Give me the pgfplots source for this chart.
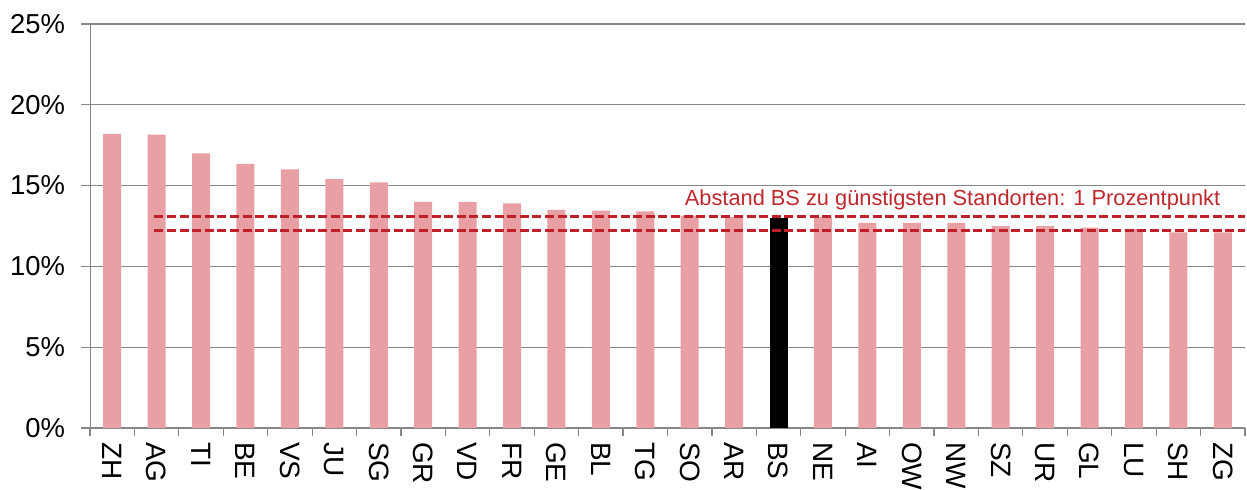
\documentclass[border=0pt]{standalone}
\usepackage{pgfplots}
\pgfplotsset{compat=1.18}
\usepackage{fontspec}
\setmainfont{Liberation Sans}
\definecolor{barpink}{RGB}{233,160,164}
\definecolor{dashred}{RGB}{192,32,42}
\definecolor{annred}{RGB}{192,39,45}
\definecolor{gridgray}{RGB}{134,134,134}
\begin{document}
\begin{tikzpicture}[x=1pt,y=1pt]
\useasboundingbox (-45,-30.5) rectangle (578.5,214);
\begin{axis}[
  at={(0,0)}, anchor=south west,
  width=577.5pt, height=202pt, scale only axis,
  xmin=-0.5, xmax=25.5, ymin=0, ymax=25,
  axis x line*=bottom, axis y line*=left,
  axis line style={gridgray, -},
  ytick={0,5,...,25},
  yticklabel={\pgfmathprintnumber{\tick}\%},
  /pgf/number format/assume math mode=true,
  yticklabel style={font=\fontsize{13.7}{14}\selectfont, xshift=-4.5pt},
  ymajorgrids, grid style={gridgray, line width=0.6pt},
  xtick={0,...,25},
  xticklabels={ZH,AG,TI,BE,VS,JU,SG,GR,VD,FR,GE,BL,TG,SO,AR,BS,NE,AI,OW,NW,SZ,UR,GL,LU,SH,ZG},
  xticklabel style={rotate=-90, anchor=west, font=\fontsize{14}{14}\selectfont, xshift=-1pt},
  minor xtick={-0.5,0.5,...,25.5},
  every major x tick/.style={draw=none},
  tick align=outside, major tick length=4.5pt, minor tick length=4pt,
  tick style={gridgray, line width=0.6pt},
  clip=false,
]
\addplot[ybar, bar width=9pt, fill=barpink, draw=none] coordinates {
 (0,18.2) (1,18.15) (2,17.0) (3,16.35) (4,16.0) (5,15.4) (6,15.2) (7,14.0) (8,14.0) (9,13.9)
 (10,13.5) (11,13.45) (12,13.4) (13,13.15) (14,13.05) (16,13.05) (17,12.7) (18,12.7) (19,12.7)
 (20,12.5) (21,12.5) (22,12.4) (23,12.3) (24,12.1) (25,12.1)};
\addplot[ybar, bar width=9pt, fill=black, draw=none] coordinates {(15,13.0)};
\addplot[dashred, line width=1.5pt, dash pattern=on 4.5pt off 1.8pt] coordinates {(0.95,13.1) (25.5,13.1)};
\addplot[dashred, line width=1.5pt, dash pattern=on 4.5pt off 1.8pt] coordinates {(0.95,12.25) (25.5,12.25)};
\node[anchor=base east, text=annred, font=\fontsize{10.9}{12}\selectfont, inner sep=0pt] at (axis cs:24.95,13.74) {Abstand BS zu günstigsten Standorten: 1 Prozentpunkt};
\end{axis}
\end{tikzpicture}
\end{document}
